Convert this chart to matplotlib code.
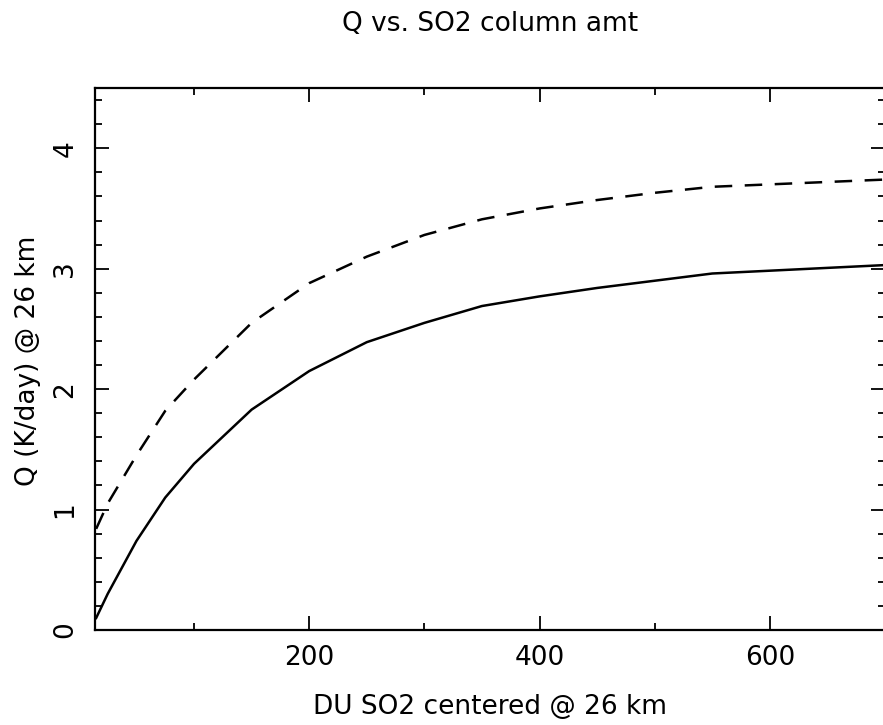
"""
Q vs. SO2 column amount at 26 km
"""

import matplotlib
matplotlib.use('Agg')
import matplotlib.pyplot as plt
from matplotlib.ticker import MultipleLocator

# DU of SO2 (column amount)
du_solid = [15, 25, 50, 75, 100, 150, 200, 250, 300, 350, 400, 450, 550, 700]
q_solid = [0.10, 0.30, 0.74, 1.10, 1.38, 1.83, 2.15, 2.39, 2.55, 2.69, 2.77, 2.84, 2.96, 3.03]

du_dashed = [15, 25, 50, 75, 100, 150, 200, 250, 300, 350, 400, 450, 500, 550, 600, 650, 700]
q_dashed = [0.84, 1.05, 1.45, 1.82, 2.08, 2.55, 2.88, 3.10, 3.28, 3.41, 3.50, 3.57, 3.63, 3.68, 3.70, 3.72, 3.74]

x_ticks = [200, 400, 600]
y_ticks = [0, 1, 2, 3, 4]

plt.rcParams['font.family'] = ['DejaVu Sans']

fig = plt.figure(figsize=(8.83, 7.25), dpi=100)
ax = fig.add_axes([0.1076, 0.131, 0.8947, 0.7476])

ax.plot(du_solid, q_solid, 'k-', linewidth=1.8)
ax.plot(du_dashed, q_dashed, 'k--', linewidth=1.8, dashes=(7, 5))

ax.set_xlim(14, 700)
ax.set_ylim(0, 4.5)

ax.set_xticks(x_ticks)
ax.set_yticks(y_ticks)
ax.xaxis.set_minor_locator(MultipleLocator(100))
ax.yaxis.set_minor_locator(MultipleLocator(0.2))

ax.tick_params(which='both', direction='in', top=True, right=True, width=1.3)
ax.tick_params(which='major', length=10)
ax.tick_params(which='minor', length=5)
ax.tick_params(axis='x', which='major', labelsize=19, pad=11)
ax.tick_params(axis='y', which='major', labelsize=19, pad=12, labelrotation=90)
for lbl in ax.get_yticklabels():
    lbl.set_va('center')

for sp in ax.spines.values():
    sp.set_linewidth(1.6)

fig.text(0.555, 0.967, 'Q vs. SO2 column amt', ha='center', va='center', fontsize=19)
fig.text(0.555, 0.025, 'DU SO2 centered @ 26 km', ha='center', va='center', fontsize=19)
fig.text(0.032, 0.503, 'Q (K/day) @ 26 km', ha='center', va='center', fontsize=19, rotation=90)

fig.savefig('out.png', dpi=100)
